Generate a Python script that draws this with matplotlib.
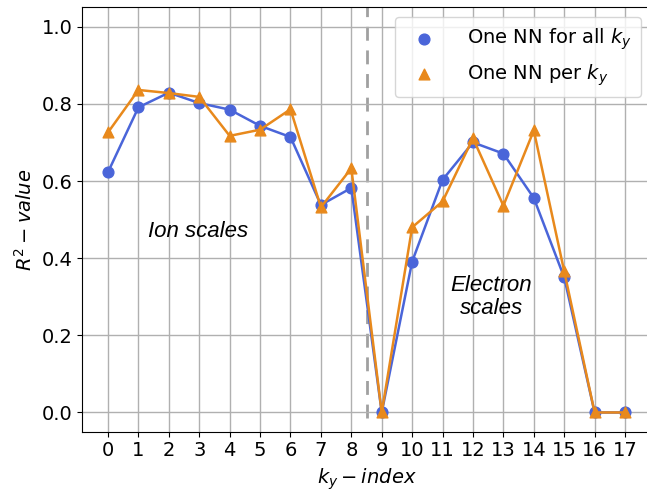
import numpy as np
import matplotlib
matplotlib.use("Agg")
import matplotlib.pyplot as plt

ky_index = np.arange(18)
r2_all = [0.623, 0.791, 0.829, 0.802, 0.785, 0.743, 0.714, 0.538, 0.582,
          0.0, 0.391, 0.603, 0.700, 0.671, 0.556, 0.350, 0.0, 0.0]
r2_per = [0.726, 0.836, 0.828, 0.818, 0.717, 0.733, 0.786, 0.532, 0.633,
          0.0, 0.480, 0.547, 0.711, 0.536, 0.731, 0.366, 0.0, 0.0]

blue = "#4a65d9"
orange = "#e8891c"

fig = plt.figure(figsize=(6.47, 4.94), dpi=100)
ax = fig.add_axes([0.127, 0.126, 0.879, 0.859])

ax.grid(True, color="#b0b0b0", linewidth=1.0, zorder=0)
ax.plot(ky_index, r2_all, color=blue, linewidth=1.8, zorder=2)
ax.scatter(ky_index, r2_all, color=blue, s=60, marker="o", zorder=3,
           label="One NN for all $k_y$")
ax.plot(ky_index, r2_per, color=orange, linewidth=1.8, zorder=4)
ax.scatter(ky_index, r2_per, color=orange, s=60, marker="^", zorder=5,
           label="One NN per $k_y$")

ax.vlines(8.5, -0.015, 1.05, colors="#a0a0a0", linestyles=(0, (5, 3.5)),
          linewidth=2, zorder=1)

# region labels
ax.text(2.95, 0.47, "Ion scales", fontsize=16, style="italic",
        family="Liberation Sans", ha="center", va="center")
ax.text(12.6, 0.30, "Electron\nscales", fontsize=16, style="italic",
        family="Liberation Sans", ha="center", va="center", linespacing=1.15)

ax.set_xlim(-0.85, 17.85)
ax.set_ylim(-0.05, 1.05)
ax.set_xticks(ky_index)
ax.set_yticks([0.0, 0.2, 0.4, 0.6, 0.8, 1.0])
ax.tick_params(labelsize=14)
ax.set_xlabel("$k_y - index$", fontsize=14)
ax.set_ylabel("$R^2 - value$", fontsize=14)

ax.legend(loc="upper right", fontsize=14, handletextpad=1.2,
          borderpad=0.5, framealpha=0.8)

fig.savefig("out.png", dpi=100)
